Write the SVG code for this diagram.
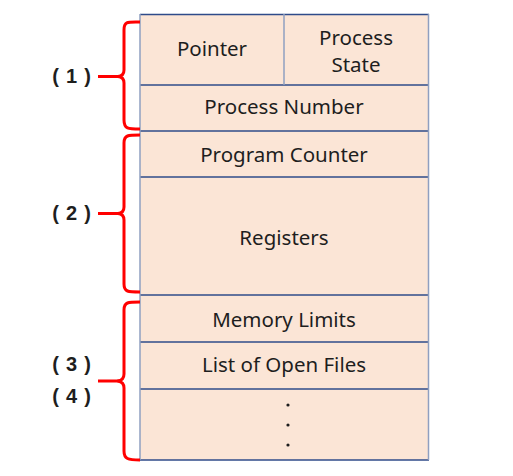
<svg xmlns="http://www.w3.org/2000/svg" width="513" height="476" viewBox="0 0 513 476">
<style>
.cell{fill:#fbe5d6;stroke:none}
.h{stroke:#2f4b8a;stroke-width:1.3}
.v{stroke:#8f9fc0;stroke-width:1.5}
.t{font-family:"Noto Sans","Liberation Sans",sans-serif;font-size:20.5px;fill:#1e1e1e;text-anchor:middle;dominant-baseline:central}
.lbl{font-family:"Liberation Sans",sans-serif;font-size:20px;font-weight:bold;fill:#1e1e1e;text-anchor:middle;dominant-baseline:central;letter-spacing:0.8px}
.br{fill:none;stroke:#ff0000;stroke-width:3;stroke-linejoin:round}
</style>
<rect width="513" height="476" fill="#fff"/>
<g id="pcb">
<rect class="cell" x="140" y="14" width="288" height="446"/>
</g>
<g id="pointer"><text class="t" x="212" y="48">Pointer</text></g>
<g id="process-state"><text class="t" x="356" y="37">Process</text><text class="t" x="356" y="64">State</text></g>
<g id="process-number"><text class="t" x="284" y="106">Process Number</text></g>
<g id="program-counter"><text class="t" x="284" y="154">Program Counter</text></g>
<g id="registers"><text class="t" x="284" y="237">Registers</text></g>
<g id="memory-limits"><text class="t" x="284" y="319">Memory Limits</text></g>
<g id="open-files"><text class="t" x="284" y="364">List of Open Files</text></g>
<g id="more"><circle cx="288" cy="405" r="1.6" fill="#1e1e1e"/><circle cx="288" cy="425" r="1.6" fill="#1e1e1e"/><circle cx="288" cy="445" r="1.6" fill="#1e1e1e"/></g>
<g id="lines">
<line class="h" x1="140" y1="14.5" x2="429" y2="14.5"/>
<line class="h" x1="140" y1="85" x2="429" y2="85"/>
<line class="h" x1="140" y1="131" x2="429" y2="131"/>
<line class="h" x1="140" y1="177" x2="429" y2="177"/>
<line class="h" x1="140" y1="295" x2="429" y2="295"/>
<line class="h" x1="140" y1="342" x2="429" y2="342"/>
<line class="h" x1="140" y1="389" x2="429" y2="389"/>
<line class="h" x1="140" y1="460" x2="429" y2="460"/>
<line class="v" x1="140" y1="14" x2="140" y2="460"/>
<line class="v" x1="428.5" y1="14" x2="428.5" y2="460"/>
<line class="v" x1="284" y1="14" x2="284" y2="85"/>
</g>
<g id="bracket-1">
<path class="br" d="M140,22 C128,22 124,21 124,30 L124,70 Q124,76 118,76.5 Q124,77 124,83 L124,120 C124,129 128,129 140,129"/>
<line class="br" x1="98" y1="76.5" x2="120" y2="76.5"/>
<text class="lbl" x="72" y="76">( 1 )</text>
</g>
<g id="bracket-2">
<path class="br" d="M140,135 C128,135 124,135 124,143 L124,207 Q124,213 118,213.5 Q124,214 124,220 L124,284 C124,292 128,292 140,292"/>
<line class="br" x1="98" y1="213.5" x2="120" y2="213.5"/>
<text class="lbl" x="72" y="213">( 2 )</text>
</g>
<g id="bracket-3">
<path class="br" d="M140,302 C128,302 124,302 124,310 L124,374 Q124,380 118,381 Q124,382 124,388 L124,451 C124,459 128,460 140,460"/>
<line class="br" x1="98" y1="381" x2="120" y2="381"/>
<text class="lbl" x="72" y="364">( 3 )</text>
<text class="lbl" x="72" y="396">( 4 )</text>
</g>
</svg>
